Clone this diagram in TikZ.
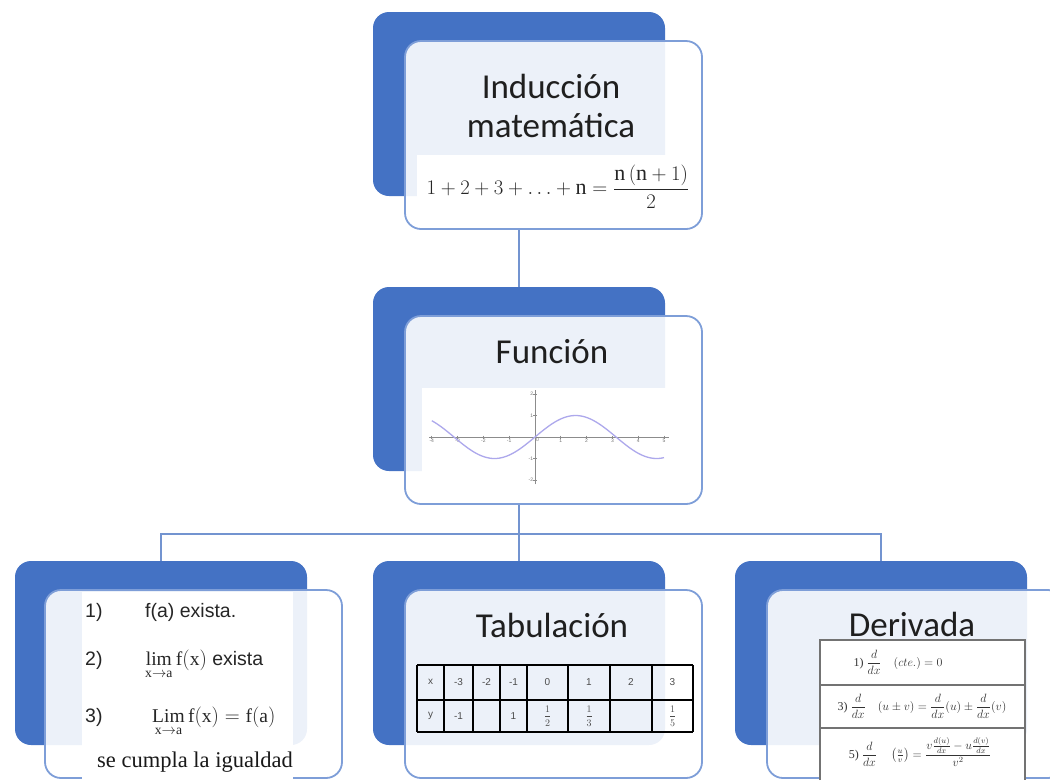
\documentclass[tikz,border=0pt]{standalone}
\usepackage{amsmath}
\usepackage{fontspec}
\setmainfont{Liberation Serif}
\setsansfont{Liberation Sans}
\newfontfamily\calibri{Carlito}
\usepackage{tikz}
\usetikzlibrary{calc}
\definecolor{azulOscuro}{HTML}{4472C4}
\definecolor{azulBorde}{HTML}{7E9ED8}
\definecolor{azulLinea}{HTML}{7394D0}
\definecolor{curvaSeno}{HTML}{ADA8EC}

\begin{document}
\begin{tikzpicture}[x=1pt,y=-1pt,
    atras/.style={fill=azulOscuro,rounded corners=16pt,minimum width=292pt,minimum height=184pt,inner sep=0pt,outer sep=0pt},
    frente/.style={draw=azulBorde,line width=1.8pt,fill=white,fill opacity=0.9,rounded corners=16pt,minimum width=297pt,minimum height=188pt,inner sep=0pt,outer sep=0pt},
    conector/.style={draw=azulLinea,line width=1.8pt},
    titulo/.style={font=\calibri\fontsize{35}{40}\selectfont,text=black!88,anchor=base,inner sep=0pt},
    parche/.style={fill=white},
    texto/.style={font=\sffamily\fontsize{19.5}{22}\selectfont,text=black!85,anchor=base west,inner sep=0pt},
    celda/.style={font=\sffamily\fontsize{10}{12}\selectfont,text=black!70,inner sep=0pt},
    formula/.style={font=\fontsize{12}{14}\selectfont,text=black!80,inner sep=0pt},
    eje/.style={draw=black!45,line width=0.7pt},
    etiq/.style={font=\sffamily\fontsize{5}{6}\selectfont,text=black!55,inner sep=1pt}]

    \useasboundingbox (0,0) rectangle (1050,780);
    \clip (0,0) rectangle (1050,780);

    % Dibujar las cajas de fondo (azul oscuro)
    \node[atras] (indAtras) at (519,104) {};
    \node[atras] (funAtras) at (519,379) {};
    \node[atras] (limAtras) at (161,653) {};
    \node[atras] (tabAtras) at (519,653) {};
    \node[atras] (derAtras) at (881,653) {};

    % Dibujar los conectores entre niveles
    \coordinate (indBase) at (553.5,229);
    \coordinate (funBase) at (553.5,504);
    \coordinate (rama) at (519,534);
    \draw[conector] (indBase -| funAtras.north) -- (funAtras.north);
    \draw[conector] (funBase -| tabAtras.north) -- (tabAtras.north);
    \draw[conector] (limAtras.north) |- (rama) -| (derAtras.north);

    % Dibujar las cajas del frente (semitransparentes)
    \node[frente] (indFrente) at (553.5,135) {};
    \node[frente] (funFrente) at (553.5,410) {};
    \node[frente] (limFrente) at (193.5,684) {};
    \node[frente] (tabFrente) at (553.5,684) {};
    \node[frente] (derFrente) at (915.5,684) {};

    % Caja 1: induccion matematica
    \node[titulo] (tInd1) at (551,98) {Inducción};
    \node[titulo] (tInd2) at (551,137) {matemática};
    \fill[parche] (417,155) rectangle (693,203);
    \node[font=\fontsize{22}{26}\selectfont,text=black!85,inner sep=0pt] (suma) at (558,187)
        {$1+2+3+\ldots+\mathrm{n}=\dfrac{\mathrm{n}\,(\mathrm{n}+1)}{2}$};

    % Caja 2: funcion y su grafica
    \node[titulo] (tFun) at (552,363) {Función};
    \fill[parche] (422,388) rectangle (690,490);
    \begin{scope}[shift={(535,437)},x=25.8pt,y=21.5pt]
        \draw[eje] (-4.1,0) -- (5.2,0);
        \draw[eje] (0,-2.2) -- (0,2.2);
        \foreach \k in {-4,-3,-2,-1,1,2,3,4,5}{
            \draw[eje] (\k,0.07) -- (\k,-0.07);
            \node[etiq,below] (gx\k) at (\k,-0.05) {\k};
        }
        \foreach \k in {-2,-1,1,2}{
            \draw[eje] (0.07,\k) -- (-0.07,\k);
            \node[etiq,left] (gy\k) at (-0.03,\k) {\k};
        }
        \node[etiq,below right] (g0) at (0,0) {0};
        \draw[curvaSeno,line width=1.3pt] plot[domain=-4:5,samples=90,smooth] (\x,{sin(\x r)});
    \end{scope}

    % Caja 3: condiciones de continuidad
    \fill[parche] (82,592) rectangle (293,780);
    \node[texto] (n1) at (85,617) {1)};
    \node[texto] (p1) at (145,617) {f(a) exista.};
    \node[texto] (n2) at (85,665) {2)};
    \node[texto] (p2) at (145,665) {$\lim\limits_{\mathrm{x}\to\mathrm{a}}\mathrm{f(x)}$ exista};
    \node[texto] (n3) at (85,722) {3)};
    \node[texto] (p3) at (152,722) {$\mathop{\mathrm{Lim}}\limits_{\mathrm{x}\to\mathrm{a}}\mathrm{f(x)}=\mathrm{f(a)}$};
    \node[font=\fontsize{22.5}{26}\selectfont,text=black!90,anchor=base,inner sep=0pt] (p4) at (195,767) {se cumpla la igualdad};

    % Caja 4: tabulacion
    \node[titulo] (tTab) at (552,637) {Tabulación};
    \foreach \c in {417,444,473,500,527,568,610,652,693}
        \draw[line width=1.6pt] (\c,665) -- (\c,732);
    \foreach \f in {665,700,732}
        \draw[line width=1.6pt] (417,\f) -- (693,\f);
    \foreach \xc/\a/\b [count=\i] in {430.5/x/y,458.5/-3/-1,486.5/-2/{},513.5/-1/1,547.5/0/{$\dfrac{1}{2}$},589/1/{$\dfrac{1}{3}$},631/2/{},672.5/3/{$\dfrac{1}{5}$}}{
        \node[celda] (tx\i) at (\xc,682) {\a};
        \node[celda] (ty\i) at (\xc,716) {\b};
    }

    % Caja 5: reglas de derivacion
    \node[titulo] (tDer) at (912,636) {Derivada};
    \fill[parche] (820,640) rectangle (1025,780);
    \draw[black!55,line width=1.3pt] (820,780) -- (820,640) -- (1025,640) -- (1025,780);
    \draw[black!55,line width=1.3pt] (820,685) -- (1025,685);
    \draw[black!55,line width=1.3pt] (820,728) -- (1025,728);
    \node[formula] (r1) at (898,662) {1) $\dfrac{d}{dx}\quad(cte.)=0$};
    \node[formula] (r2) at (922,706) {3) $\dfrac{d}{dx}\quad(u\pm v)=\dfrac{d}{dx}(u)\pm\dfrac{d}{dx}(v)$};
    \node[formula] (r3) at (920,752) {5) $\dfrac{d}{dx}\quad\left(\frac{u}{v}\right)=\dfrac{v\frac{d(u)}{dx}-u\frac{d(v)}{dx}}{v^{2}}$};

\end{tikzpicture}
\end{document}
